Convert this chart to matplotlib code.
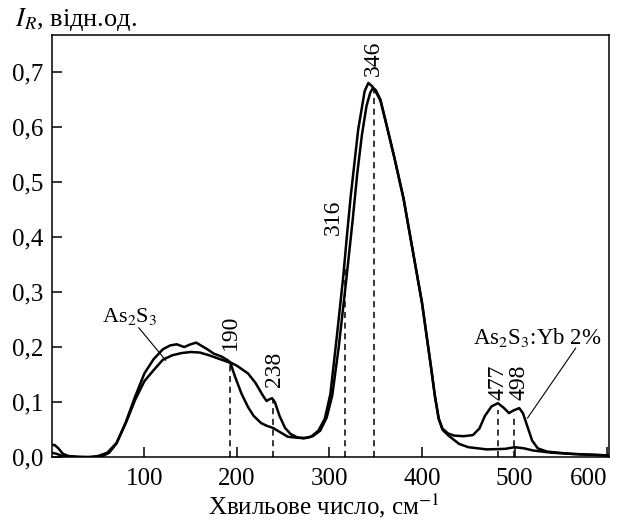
import numpy as np
import matplotlib
matplotlib.use("Agg")
import matplotlib.pyplot as plt

plt.rcParams['font.family'] = ['Liberation Serif', 'DejaVu Serif']
plt.rcParams['mathtext.fontset'] = 'stix'

# As2S3 (smooth curve)
x_as = [0, 5, 10, 20, 40, 50, 60, 70, 80, 90, 100, 110, 120, 130, 140, 150, 160, 170, 180, 190,
        193, 198, 205, 212, 218, 226, 232, 239, 245, 255, 266, 275, 282, 290, 297, 303, 310, 318,
        325, 330, 335, 340, 344, 347, 350, 355, 360, 370, 380, 390, 400, 410, 414, 418, 422, 428,
        440, 450, 470, 490, 500, 510, 520, 540, 570, 602]
y_as = [0.008, 0.006, 0.003, 0.001, 0.0, 0.002, 0.008, 0.026, 0.062, 0.104, 0.138, 0.158, 0.177, 0.185, 0.189, 0.191, 0.19, 0.185, 0.179, 0.173,
        0.171, 0.146, 0.115, 0.091, 0.075, 0.062, 0.057, 0.053, 0.047, 0.037, 0.035, 0.035, 0.038, 0.048, 0.072, 0.112, 0.2, 0.32,
        0.43, 0.515, 0.585, 0.638, 0.662, 0.671, 0.667, 0.65, 0.615, 0.545, 0.47, 0.375, 0.28, 0.16, 0.11, 0.07, 0.05, 0.04,
        0.024, 0.018, 0.014, 0.015, 0.018, 0.016, 0.012, 0.008, 0.005, 0.003]

# As2S3:Yb 2%
x_yb = [0, 3, 7, 12, 18, 30, 45, 55, 62, 70, 80, 90, 100, 110, 120, 128, 135, 143, 150, 156, 162, 168,
        175, 183, 190, 193, 200, 212, 220, 228, 232, 235, 238, 241, 246, 252, 258, 265, 272, 280, 288,
        295, 301, 308, 315, 319, 323, 331, 338, 342, 346, 350, 355, 360, 370, 380, 390, 400, 410, 414,
        418, 422, 428, 435, 445, 455, 462, 468, 475, 482, 488, 494, 499, 505, 509, 514, 519, 525, 535,
        560, 602]
y_yb = [0.022, 0.022, 0.016, 0.006, 0.002, 0.0, 0.0, 0.002, 0.008, 0.025, 0.064, 0.11, 0.152, 0.178, 0.196, 0.203, 0.205, 0.2, 0.205, 0.208, 0.202, 0.196,
        0.188, 0.183, 0.176, 0.172, 0.166, 0.152, 0.135, 0.112, 0.102, 0.105, 0.107, 0.1, 0.075, 0.053, 0.042, 0.036, 0.034, 0.037, 0.048,
        0.07, 0.115, 0.22, 0.33, 0.405, 0.475, 0.595, 0.665, 0.68, 0.674, 0.664, 0.648, 0.615, 0.545, 0.47, 0.375, 0.28, 0.16, 0.11,
        0.07, 0.052, 0.043, 0.039, 0.038, 0.04, 0.052, 0.075, 0.092, 0.098, 0.09, 0.08, 0.085, 0.089, 0.08, 0.055, 0.03, 0.016, 0.01,
        0.006, 0.003]

# marked peaks: label, dashed line x, dashed line top, label x, label y
peak_labels = ['190', '238', '316', '346', '477', '498']
line_x = [192, 239, 317, 348, 482, 499]
line_top = [0.172, 0.105, 0.345, 0.67, 0.085, 0.079]
label_x = [193, 241, 304, 347, 482, 505]
label_y = [0.226, 0.16, 0.436, 0.724, 0.136, 0.136]

fig = plt.figure(figsize=(6.17, 5.23), dpi=100)
ax = fig.add_axes([0.084, 0.126, 0.903, 0.807])

ax.plot(x_as, y_as, color='black', lw=1.8)
ax.plot(x_yb, y_yb, color='black', lw=1.8)

for lx, top in zip(line_x, line_top):
    ax.plot([lx, lx], [0, top], color='black', lw=1.1, ls=(0, (4, 3)))
for txt, tx, ty in zip(peak_labels, label_x, label_y):
    ax.text(tx, ty, txt, rotation=90, ha='center', va='center', fontsize=17)

# curve labels with pointers
ax.text(84, 0.256, 'As$_2$S$_3$', ha='center', va='center', fontsize=16)
ax.plot([94, 123], [0.235, 0.176], color='black', lw=0.8)
ax.text(525, 0.218, 'As$_2$S$_3$:Yb 2%', ha='center', va='center', fontsize=16.5)
ax.plot([566, 514], [0.198, 0.071], color='black', lw=0.8)

ax.set_xlim(0, 602)
ax.set_ylim(0, 0.767)
ax.set_xticks([100, 200, 300, 400, 500, 600])
ax.set_yticks(np.arange(0, 0.71, 0.1))
ax.set_yticklabels([('%.1f' % v).replace('.', ',') for v in np.arange(0, 0.71, 0.1)])
ax.tick_params(direction='in', length=7, width=1.1, labelsize=18, top=False, right=False)
ax.tick_params(axis='x', pad=8)
ax.tick_params(axis='y', pad=6)
ax.get_xticklabels()[-1].set_horizontalalignment('right')
for s in ax.spines.values():
    s.set_linewidth(1.1)

fig.text(0.024, 0.962, '$I_R$, відн.од.', ha='left', va='center', fontsize=19)
fig.text(0.524, 0.016, 'Хвильове число, см$^{-1}$', ha='center', va='baseline', fontsize=18)

fig.savefig('out.png', dpi=100)
